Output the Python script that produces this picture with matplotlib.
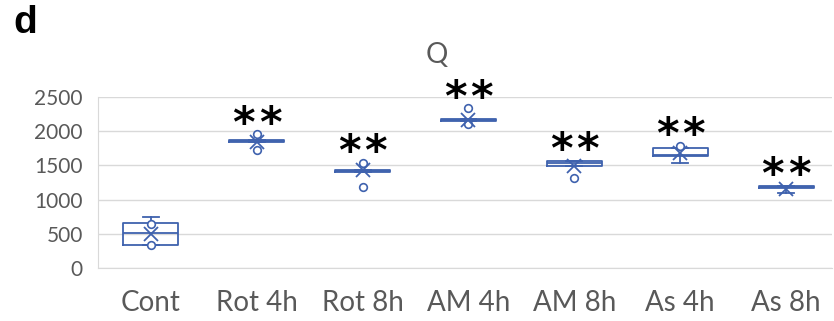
import matplotlib
matplotlib.use("Agg")
import matplotlib.pyplot as plt

groups = ["Cont", "Rot 4h", "Rot 8h", "AM 4h", "AM 8h", "As 4h", "As 8h"]
whis_lo = [330, 1840, 1405, 2145, 1490, 1530, 1100]
q1 = [340, 1840, 1405, 2145, 1490, 1637, 1175]
median = [510, 1855, 1420, 2160, 1530, 1645, 1190]
q3 = [660, 1870, 1435, 2175, 1565, 1750, 1200]
whis_hi = [750, 1870, 1435, 2175, 1570, 1750, 1200]
means = [500, 1847, 1430, 2160, 1495, 1677, 1150]
points = [[330, 640], [1955, 1725], [1540, 1189], [2335, 2105], [1311], [1784], []]
significant = [False, True, True, True, True, True, True]

blue = "#3F62AE"
grey = "#595959"

stats = []
for i in range(len(groups)):
    stats.append({
        "label": groups[i],
        "whislo": whis_lo[i], "q1": q1[i], "med": median[i],
        "q3": q3[i], "whishi": whis_hi[i], "mean": means[i],
        "fliers": points[i],
    })

fig = plt.figure(figsize=(8.34, 3.21), dpi=100)
ax = fig.add_axes([98 / 834, 1 - 268 / 321, (832 - 98) / 834, (268 - 97) / 321])

pos = list(range(len(groups)))
ax.bxp(stats, positions=pos, widths=0.52, capwidths=0.15,
       showmeans=True, patch_artist=False,
       boxprops=dict(color=blue, linewidth=1.3),
       medianprops=dict(color=blue, linewidth=1.3),
       whiskerprops=dict(color=blue, linewidth=1.3),
       capprops=dict(color=blue, linewidth=1.3),
       meanprops=dict(marker="x", markeredgecolor=blue, markersize=10,
                      markeredgewidth=1.3),
       flierprops=dict(marker="o", markerfacecolor="white",
                       markeredgecolor=blue, markersize=5.5,
                       markeredgewidth=1.2))

# significance marks above each treated group: two stars side by side
for i in pos:
    if not significant[i]:
        continue
    top = max([whis_hi[i]] + points[i])
    for dx in (-9.5, 9.5):
        ax.annotate("*", (i, top), xytext=(dx, 7), textcoords="offset points",
                    ha="center", va="center", fontsize=31, fontweight="bold",
                    family="DejaVu Sans", color="black")

ax.set_xlim(-0.5, 6 + (832 - 786) / 106)
ax.set_ylim(0, 2500)
ax.set_yticks([0, 500, 1000, 1500, 2000, 2500])
ax.set_xticks(pos)
ax.set_xticklabels(groups)
ax.yaxis.grid(True, color="#D9D9D9", linewidth=1)
ax.set_axisbelow(True)
for side in ["top", "right"]:
    ax.spines[side].set_visible(False)
for side in ["left", "bottom"]:
    ax.spines[side].set_color("#D9D9D9")
ax.tick_params(axis="both", length=0)
ax.tick_params(axis="y", labelsize=15, labelcolor=grey, pad=11)
ax.tick_params(axis="x", labelsize=20, labelcolor=grey, pad=16)
for lab in ax.get_xticklabels() + ax.get_yticklabels():
    lab.set_family("Lato")

fig.text(437 / 834, 1 - 55 / 321, "Q", ha="center", va="center",
         fontsize=20, color=grey, family="Lato")
fig.text(13 / 834, 1 - 5 / 321, "d", ha="left", va="top",
         fontsize=28, fontweight="bold", family="Liberation Sans")

fig.savefig("out.png", dpi=100)
